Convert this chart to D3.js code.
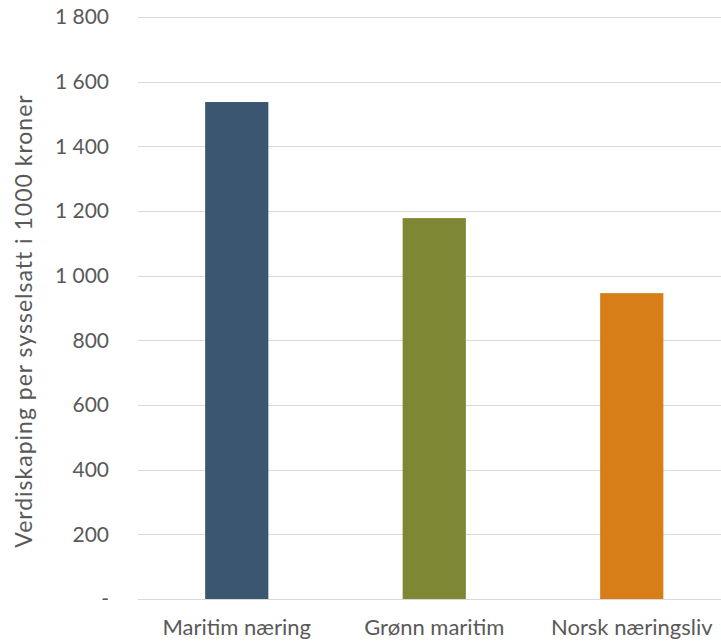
<!DOCTYPE html>
<html><head><meta charset="utf-8">
<script src="https://cdn.jsdelivr.net/npm/d3@7/dist/d3.min.js"></script>
<style>body{margin:0;background:#fff;}svg{display:block;}</style>
</head><body>
<svg id="c" width="721" height="641"></svg>
<script>
const categories = ["Maritim næring", "Grønn maritim", "Norsk næringsliv"];
const values = [1537, 1178, 946];
const colors = ["#3B5671", "#7D8734", "#D87E18"];
const yTicks = [0, 200, 400, 600, 800, 1000, 1200, 1400, 1600, 1800];
const yTitle = "Verdiskaping per sysselsatt i 1000 kroner";

const svg = d3.select("#c");
const font = "Lato, 'Open Sans', sans-serif";
const x = d3.scaleBand().domain(categories).range([138, 730.5]).paddingInner(0.68).paddingOuter(0.34);
const y = d3.scaleLinear().domain([0, 1800]).range([599, 17]);

const fmt = v => v === 0 ? "-" : d3.format(",")(v).replace(/,/g, " ");

svg.append("g").selectAll("line").data(yTicks).join("line")
  .attr("x1", 138).attr("x2", 721)
  .attr("y1", d => Math.round(y(d)) + 0.5).attr("y2", d => Math.round(y(d)) + 0.5)
  .attr("stroke", "#d9d9d9").attr("stroke-width", 1);

svg.append("g").selectAll("text").data(yTicks).join("text")
  .attr("x", 109).attr("y", d => y(d)).attr("dy", "0.35em")
  .attr("text-anchor", "end").attr("fill", "#595959")
  .attr("font-family", font).attr("font-size", 21)
  .text(fmt);

svg.append("g").selectAll("rect").data(categories).join("rect")
  .attr("x", d => x(d)).attr("width", x.bandwidth())
  .attr("y", (d, i) => y(values[i])).attr("height", (d, i) => y(0) - y(values[i]))
  .attr("fill", (d, i) => colors[i]);

svg.append("g").selectAll("text").data(categories).join("text")
  .attr("x", d => x(d) + x.bandwidth() / 2).attr("y", 635)
  .attr("text-anchor", "middle").attr("fill", "#595959")
  .attr("font-family", font).attr("font-size", 22)
  .text(d => d);

svg.append("text")
  .attr("transform", "translate(32,321) rotate(-90)")
  .attr("text-anchor", "middle").attr("fill", "#595959")
  .attr("font-family", font).attr("font-size", 23)
  .attr("letter-spacing", 1)
  .text(yTitle);
</script>
</body></html>
